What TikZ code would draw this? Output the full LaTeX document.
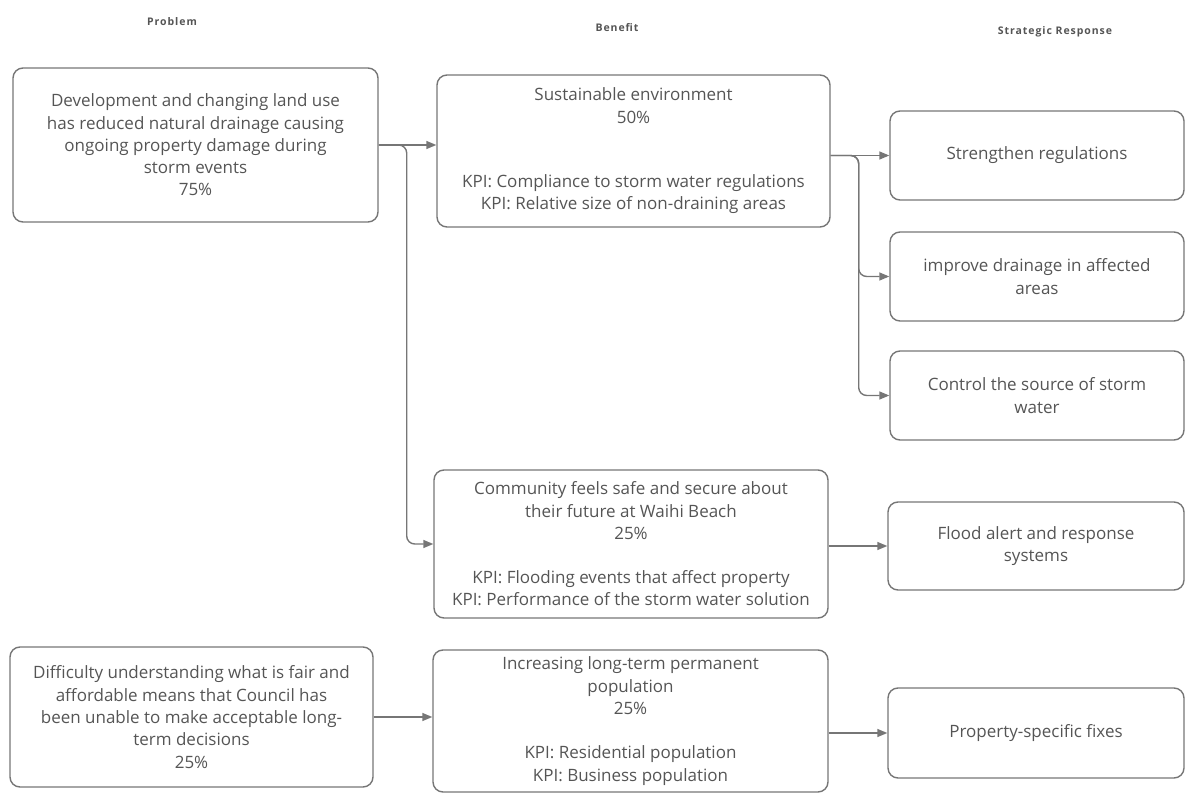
\documentclass[tikz,border=0pt]{standalone}
\usepackage{fontspec}
\setmainfont{Open Sans}
\newfontfamily\hdrfont[LetterSpace=9]{Open Sans}
\usetikzlibrary{arrows.meta}
\definecolor{linegray}{HTML}{767676}
\definecolor{textgray}{HTML}{555555}
\tikzset{
  box/.style={draw=linegray, line width=1.4pt, rounded corners=10pt, inner sep=0pt,
    align=center, text=textgray, font=\fontsize{17}{22.3}\selectfont},
  hdr/.style={text=textgray, font=\hdrfont\bfseries\fontsize{10.5}{12}\selectfont},
  conn/.style={draw=linegray, line width=1.4pt, rounded corners=8pt,
    -{Triangle[length=10pt,width=8pt]}}
}
\begin{document}
\begin{tikzpicture}[x=1pt,y=-1pt]
\useasboundingbox (0,0) rectangle (1186,799);
% headers
\node[hdr] (h1) at (172,22) {Problem};
\node[hdr] (h2) at (617,28) {Benefit};
\node[hdr] (h3) at (1055,32) {Strategic Response};
% problems
\node[box, minimum width=365pt, minimum height=154pt] (P1) at (195.5,145)
  {Development and changing land use\\has reduced natural drainage causing\\ongoing property damage during\\storm events\\75\%};
\node[box, minimum width=363pt, minimum height=140pt] (P2) at (191.5,717)
  {Difficulty understanding what is fair and\\affordable means that Council has\\been unable to make acceptable long-\\term decisions\\25\%};
% benefits
\node[box, minimum width=393pt, minimum height=152pt] (B1) at (633.5,151)
  {Sustainable environment\\50\%\\[42pt]KPI: Compliance to storm water regulations\\KPI: Relative size of non-draining areas};
\node[box, minimum width=394pt, minimum height=148pt] (B2) at (631,544)
  {Community feels safe and secure about\\their future at Waihi Beach\\25\%\\[22pt]KPI: Flooding events that affect property\\KPI: Performance of the storm water solution};
\node[box, minimum width=395pt, minimum height=142pt] (B3) at (630.5,721)
  {Increasing long-term permanent\\population\\25\%\\[22pt]KPI: Residential population\\KPI: Business population};
% strategic responses
\node[box, minimum width=294pt, minimum height=89pt] (S1) at (1037,155.5) {Strengthen regulations};
\node[box, minimum width=294pt, minimum height=89pt] (S2) at (1037,276.5) {improve drainage in affected\\areas};
\node[box, minimum width=294pt, minimum height=89pt] (S3) at (1037,395.5) {Control the source of storm\\water};
\node[box, minimum width=296pt, minimum height=88pt] (S4) at (1036,546) {Flood alert and response\\systems};
\node[box, minimum width=296pt, minimum height=90pt] (S5) at (1036,733) {Property-specific fixes};
% connectors
\draw[conn] (P1.east) -- (P1.east -| B1.west);
\draw[conn] (P1.east) -- ++(28,0) |- (B2.west);
\draw[conn] (B1.east |- S1.west) -- (S1.west);
\draw[conn] (B1.east |- S1.west) -- ++(28,0) |- (S2.west);
\draw[conn] (B1.east |- S1.west) -- ++(28,0) |- (S3.west);
\draw[conn] (B2.east |- S4.west) -- (S4.west);
\draw[conn] (P2.east) -- (P2.east -| B3.west);
\draw[conn] (B3.east |- S5.west) -- (S5.west);
\end{tikzpicture}
\end{document}
